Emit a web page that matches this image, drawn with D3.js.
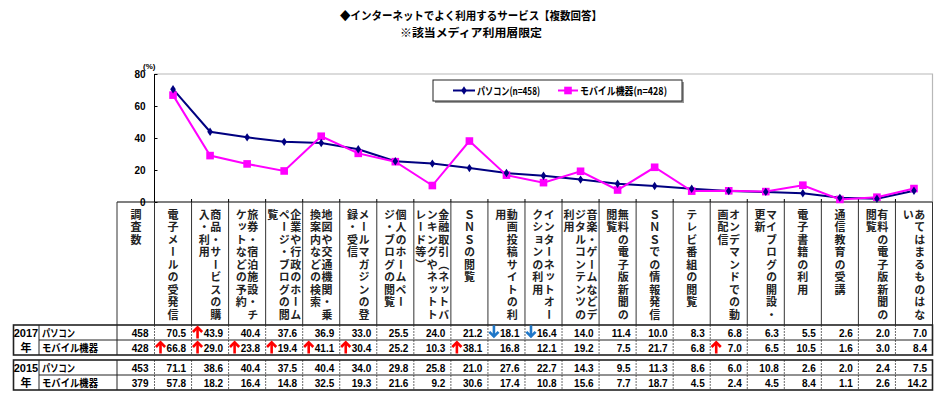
<!DOCTYPE html>
<html><head><meta charset="utf-8">
<script src="https://cdn.jsdelivr.net/npm/d3@7"></script>
<style>body{margin:0;background:#fff} svg{display:block}</style>
</head><body><svg id="c" width="940" height="397"></svg>
<script>
const titleLines = ["◆インターネットでよく利用するサービス【複数回答】", "※該当メディア利用層限定"];
const categories = [
  ["電子メールの受発信"],
  ["商品・サービスの購", "入・利用"],
  ["旅券・宿泊施設・チ", "ケットなどの予約"],
  ["企業や行政のホーム", "ページ・ブログの閲", "覧"],
  ["地図や交通機関・乗", "換案内などの検索"],
  ["メールマガジンの登", "録・受信"],
  ["個人のホームペー", "ジ・ブログの閲覧"],
  ["金融取引（ネットバ", "ンキングやネットト", "レード等）"],
  ["ＳＮＳの閲覧"],
  ["動画投稿サイトの利", "用"],
  ["インターネットオー", "クションの利用"],
  ["音楽・ゲームなどデ", "ジタルコンテンツの", "利用"],
  ["無料の電子版新聞の", "閲覧"],
  ["ＳＮＳでの情報発信"],
  ["テレビ番組の閲覧"],
  ["オンデマンドでの動", "画配信"],
  ["マイブログの開設・", "更新"],
  ["電子書籍の利用"],
  ["通信教育の受講"],
  ["有料の電子版新聞の", "閲覧"],
  ["あてはまるものはな", "い"]
];
const nHeader = "調査数";
const seriesNames = ["パソコン(n=458)", "モバイル機器(n=428)"];
const rowNames = ["パソコン", "モバイル機器"];
const years = ["2017", "2015"];
const yearSuffix = "年";
const pc2017 = [70.5, 43.9, 40.4, 37.6, 36.9, 33.0, 25.5, 24.0, 21.2, 18.1, 16.4, 14.0, 11.4, 10.0, 8.3, 6.8, 6.3, 5.5, 2.6, 2.0, 7.0];
const mob2017 = [66.8, 29.0, 23.8, 19.4, 41.1, 30.4, 25.2, 10.3, 38.1, 16.8, 12.1, 19.2, 7.5, 21.7, 6.8, 7.0, 6.5, 10.5, 1.6, 3.0, 8.4];
const pc2015 = [71.1, 38.6, 40.4, 37.5, 40.4, 34.0, 29.8, 25.8, 21.0, 27.6, 22.7, 14.3, 9.5, 11.3, 8.6, 6.0, 10.8, 2.6, 2.0, 2.4, 7.5];
const mob2015 = [57.8, 18.2, 16.4, 14.8, 32.5, 19.3, 21.6, 9.2, 30.6, 17.4, 10.8, 15.6, 7.7, 18.7, 4.5, 2.4, 4.5, 8.4, 1.1, 2.6, 14.2];
const n2017 = [458, 428];
const n2015 = [453, 379];
const yTicks = [0, 20, 40, 60, 80];
const upPc2017 = [1];
const downPc2017 = [9, 10];
const upMob2017 = [0, 1, 2, 3, 4, 5, 8, 15];

const JP = "'Noto Sans CJK JP','Noto Sans',sans-serif";
const NUM = "'Liberation Sans',Arial,sans-serif";
const PC_COL = "#000080", MOB_COL = "#FF00FF";

const svg = d3.select("#c");
const x = d3.scaleBand().domain(d3.range(categories.length)).range([154.5, 932.5]);
const y = d3.scaleLinear().domain([0, 80]).range([202, 74]);
const bw = x.bandwidth();
const cx = i => x(i) + bw / 2;

// Title
svg.selectAll("text.title").data(titleLines).join("text")
  .attr("x", 471).attr("y", (d, i) => 20 + i * 17)
  .attr("text-anchor", "middle")
  .attr("font-family", JP).attr("font-size", 11.5).attr("font-weight", "bold")
  .attr("textLength", (d, i) => i === 0 ? 262 : 142).attr("lengthAdjust", "spacingAndGlyphs")
  .text(d => d);

// Plot border (gray top/right)
svg.append("path").attr("d", `M154.5,74H932.5V202`).attr("fill", "none").attr("stroke", "#b8b8b8").attr("stroke-width", 1.2);

// Y axis
const yAxis = svg.append("g").attr("transform", "translate(154.5,0)")
  .call(d3.axisLeft(y).tickValues(yTicks).tickSizeInner(-3).tickSizeOuter(0).tickPadding(9));
yAxis.select(".domain").remove();
yAxis.selectAll("line").attr("stroke", "#000");
yAxis.selectAll("text").attr("font-family", NUM).attr("font-size", 10).attr("font-weight", "bold").attr("fill", "#000");
svg.append("line").attr("x1", 154.5).attr("x2", 154.5).attr("y1", 74).attr("y2", 202).attr("stroke", "#000").attr("stroke-width", 1);
svg.append("text").attr("x", 143).attr("y", 69).attr("font-family", NUM).attr("font-size", 8).attr("font-weight", "bold").text("(%)");

// X axis line and ticks
svg.append("line").attr("x1", 117).attr("x2", 932.5).attr("y1", 202).attr("y2", 202).attr("stroke", "#000").attr("stroke-width", 1.2);
svg.selectAll("line.xt").data(d3.range(1, categories.length)).join("line").attr("class", "xt")
  .attr("x1", d => x(d)).attr("x2", d => x(d)).attr("y1", 202).attr("y2", 199).attr("stroke", "#000");

// Lines
const line = d3.line().x((d, i) => cx(i)).y(d => y(d));
svg.append("path").datum(pc2017).attr("d", line).attr("fill", "none").attr("stroke", PC_COL).attr("stroke-width", 2);
svg.append("path").datum(mob2017).attr("d", line).attr("fill", "none").attr("stroke", MOB_COL).attr("stroke-width", 2);
svg.selectAll("rect.mob").data(mob2017).join("rect").attr("class", "mob")
  .attr("x", (d, i) => cx(i) - 3.8).attr("y", d => y(d) - 3.8).attr("width", 7.6).attr("height", 7.6).attr("fill", MOB_COL);
const diamond = "M0,-4.2L2.8,0L0,4.2L-2.8,0Z";
svg.selectAll("path.pc").data(pc2017).join("path").attr("class", "pc")
  .attr("transform", (d, i) => `translate(${cx(i)},${y(d)})`).attr("d", diamond).attr("fill", PC_COL);

// Legend
const lg = svg.append("g");
lg.append("rect").attr("x", 435).attr("y", 82).attr("width", 249).attr("height", 21).attr("fill", "#999");
lg.append("rect").attr("x", 433).attr("y", 80).attr("width", 249).attr("height", 21).attr("fill", "#fff").attr("stroke", "#222").attr("stroke-width", 1);
lg.append("line").attr("x1", 453).attr("x2", 475).attr("y1", 90.5).attr("y2", 90.5).attr("stroke", PC_COL).attr("stroke-width", 2);
lg.append("path").attr("transform", "translate(464,90.5)").attr("d", diamond).attr("fill", PC_COL);
lg.append("line").attr("x1", 558).attr("x2", 578).attr("y1", 90.5).attr("y2", 90.5).attr("stroke", MOB_COL).attr("stroke-width", 2);
lg.append("rect").attr("x", 564.2).attr("y", 86.7).attr("width", 7.6).attr("height", 7.6).attr("fill", MOB_COL);
lg.selectAll("text").data(seriesNames).join("text")
  .attr("x", (d, i) => i === 0 ? 477 : 580).attr("y", 94.5)
  .attr("font-family", JP).attr("font-size", 10.5).attr("font-weight", "bold")
  .attr("textLength", (d, i) => i === 0 ? 63 : 87).attr("lengthAdjust", "spacingAndGlyphs")
  .text(d => d);

// Header table
const hdrTop = 202, hdrBot = 325;
const vlines = [117, ...d3.range(categories.length).map(i => x(i)), 932.5];
svg.selectAll("line.hv").data(vlines).join("line").attr("class", "hv")
  .attr("x1", d => d).attr("x2", d => d).attr("y1", hdrTop).attr("y2", hdrBot).attr("stroke", "#333").attr("stroke-width", 1);

function vtext(g, str, px, py) {
  g.append("text").attr("x", px).attr("y", py)
    .style("writing-mode", "vertical-rl").style("text-orientation", "upright")
    .attr("font-family", JP).attr("font-size", 11).attr("font-weight", "bold")
    .attr("letter-spacing", 1.5).attr("fill", "#222").text(str);
}
const hg = svg.append("g");
vtext(hg, nHeader, 136, 209);
categories.forEach((cols, i) => {
  const n = cols.length;
  cols.forEach((s, j) => vtext(hg, s, cx(i) + ((n - 1) / 2 - j) * 11.5, 209));
});

// Data tables
function table(top, yearLabel, nvals, rows, arrows) {
  const g = svg.append("g");
  const h = 15;
  g.selectAll("line.cv").data(d3.range(categories.length).map(i => x(i))).join("line")
    .attr("x1", d => d).attr("x2", d => d).attr("y1", top).attr("y2", top + 2 * h)
    .attr("stroke", "#444").attr("stroke-width", 0.8).attr("stroke-dasharray", "2,1");
  g.append("line").attr("x1", 117).attr("x2", 117).attr("y1", top).attr("y2", top + 2 * h).attr("stroke", "#222");
  g.append("line").attr("x1", 39).attr("x2", 39).attr("y1", top).attr("y2", top + 2 * h).attr("stroke", "#222");
  g.append("line").attr("x1", 39).attr("x2", 932.5).attr("y1", top + h).attr("y2", top + h).attr("stroke", "#222");
  g.append("rect").attr("x", 13.5).attr("y", top).attr("width", 919).attr("height", 2 * h)
    .attr("fill", "none").attr("stroke", "#222").attr("stroke-width", 1.6);
  g.append("text").attr("x", 26).attr("y", top + 12).attr("text-anchor", "middle")
    .attr("font-family", NUM).attr("font-size", 11).attr("font-weight", "bold").text(yearLabel);
  g.append("text").attr("x", 26).attr("y", top + 27).attr("text-anchor", "middle")
    .attr("font-family", JP).attr("font-size", 11).attr("font-weight", "bold").text(yearSuffix);
  rows.forEach((vals, r) => {
    const base = top + r * h + 11.5;
    g.append("text").attr("x", 42).attr("y", base).attr("font-family", JP).attr("font-size", 10.5).attr("font-weight", "bold")
      .attr("textLength", r === 0 ? 33 : 56).attr("lengthAdjust", "spacingAndGlyphs").text(rowNames[r]);
    g.append("text").attr("x", 148.5).attr("y", base).attr("text-anchor", "end")
      .attr("font-family", NUM).attr("font-size", 10).attr("font-weight", "bold").text(nvals[r]);
    g.selectAll("text.v" + r).data(vals).join("text").attr("class", "v" + r)
      .attr("x", (d, i) => x(i) + bw - 5.5).attr("y", base).attr("text-anchor", "end")
      .attr("font-family", NUM).attr("font-size", 10).attr("font-weight", "bold").text(d => d.toFixed(1));
  });
  (arrows || []).forEach(a => {
    a.idx.forEach(i => {
      const ax = x(i) + 6, t = top + a.row * h + 0.8, b = top + a.row * h + 13.5;
      const col = a.up ? "#FF0000" : "#1F77C8";
      const ag = g.append("g").attr("stroke", col).attr("stroke-width", 2.6).attr("fill", "none")
        .attr("stroke-linecap", "butt").attr("stroke-linejoin", "miter");
      if (a.up) {
        ag.append("line").attr("x1", ax).attr("x2", ax).attr("y1", t + 1.5).attr("y2", b);
        ag.append("path").attr("d", `M${ax - 4.6},${t + 6.2}L${ax},${t + 1.5}L${ax + 4.6},${t + 6.2}`);
      } else {
        ag.append("line").attr("x1", ax).attr("x2", ax).attr("y1", t - 0.5).attr("y2", b - 2);
        ag.append("path").attr("d", `M${ax - 4.6},${b - 6.7}L${ax},${b - 2}L${ax + 4.6},${b - 6.7}`);
      }
    });
  });
}
table(325, years[0], n2017, [pc2017, mob2017], [
  {row: 0, up: true, idx: upPc2017},
  {row: 0, up: false, idx: downPc2017},
  {row: 1, up: true, idx: upMob2017}
]);
table(360, years[1], n2015, [pc2015, mob2015], []);
</script></body></html>
